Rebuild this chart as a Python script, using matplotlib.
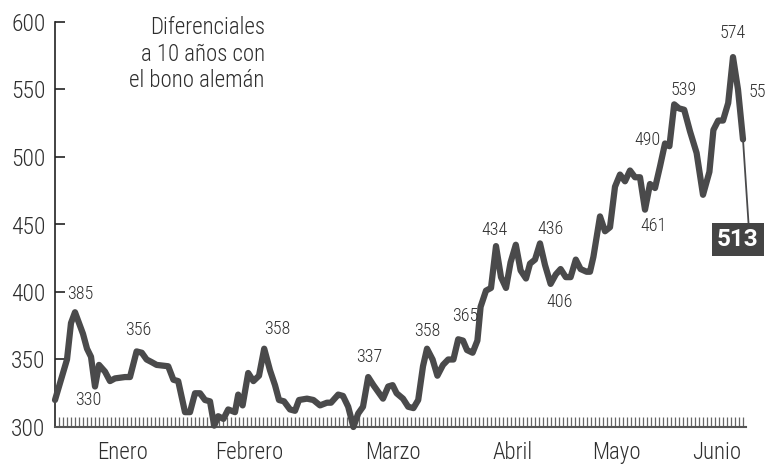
"""
Diferencial a 10 años con el bono alemán (enero - junio).
"""
import matplotlib
matplotlib.use("Agg")
import matplotlib.pyplot as plt
from matplotlib import font_manager

# day of the year (0 = 1 de enero) and spread in basis points
days = [0, 2, 3, 4, 5, 7, 8, 9, 10, 11, 12.5, 13.75, 15, 17.5, 18.75, 20.4, 21.7,
        22.9, 24.2, 25.4, 28.3, 29.6, 30.8, 32.5, 33.75, 35, 36.25, 37.5, 38.75,
        39.8, 40.8, 42.1, 43.3, 45, 45.8, 46.9, 48.3, 49.6, 51, 52.3, 53.75, 55,
        56, 57.25, 58.75, 60, 61, 63, 64.6, 66.25, 68, 69, 70.8, 72, 73.3, 74.6,
        75.8, 77, 78.3, 79.6, 80.8, 82, 83.3, 84.4, 85.4, 87, 88.3, 89.6, 90.8,
        92, 93, 94.4, 95.6, 97, 98.3, 99.6, 100.8, 102, 103, 104.4, 105.6, 106.4,
        107.75, 109, 110.25, 111.5, 112.75, 113.9, 115.2, 116.4, 117.75, 118.75,
        120, 121.25, 122.5, 123.9, 125.2, 126.4, 127.7, 128.9, 130.2, 131.4,
        132.9, 133.75, 134.6, 136.25, 137.5, 138.75, 140, 141.25, 142.5, 143.75,
        145, 146.25, 147.5, 148.75, 150, 151.25, 152.5, 153.6, 154.8, 156, 157.3,
        158.75, 160.4, 162, 163.6, 164.6, 165.8, 167, 168.3, 169.5, 170.75, 172]
spread = [320, 340, 350, 377, 385, 369, 358, 352, 330, 346, 341, 334, 336, 337,
          337, 356, 355, 350, 348, 346, 345, 335, 334, 311, 311, 325, 325, 320,
          319, 301, 308, 306, 313, 311, 324, 316, 340, 334, 338, 358, 342, 331,
          320, 319, 313, 312, 320, 321, 320, 316, 318, 318, 324, 323, 315, 300,
          310, 315, 337, 331, 326, 321, 330, 331, 325, 321, 315, 314, 320, 345,
          358, 350, 338, 346, 350, 350, 365, 364, 357, 355, 364, 389, 401, 403,
          434, 411, 403, 422, 435, 416, 410, 421, 424, 436, 420, 406, 413, 417,
          411, 411, 424, 417, 415, 415, 426, 456, 445, 448, 478, 487, 482, 490,
          485, 485, 461, 480, 477, 493, 510, 508, 539, 536, 535, 519, 503, 472,
          489, 520, 527, 527, 540, 574, 550, 513]

month_names = ["Enero", "Febrero", "Marzo", "Abril", "Mayo", "Junio"]
month_pos = [17, 48.5, 84.5, 114.5, 140.25, 165.5]

# value labels: (text, day, value)
labels = [("330", 8.25, 320), ("385", 6.25, 398.5), ("356", 20.75, 372),
          ("358", 55.5, 372.6), ("337", 78.5, 352), ("358", 93, 371),
          ("365", 102.5, 382), ("434", 110, 446), ("436", 123.75, 447),
          ("406", 126.25, 392.6), ("461", 149.75, 449), ("490", 148.25, 512.6),
          ("539", 157.25, 549.6), ("574", 169.5, 592)]

installed = {f.name for f in font_manager.fontManager.ttflist}
FONT = [f for f in ["Roboto Condensed", "Liberation Sans Narrow", "Roboto"]
        if f in installed] + ["DejaVu Sans"]
LINE = "#4a4a4b"
TEXT = "#2e2e2e"

plt.rcParams["font.family"] = FONT
plt.rcParams["font.weight"] = "light"

fig = plt.figure(figsize=(7.66, 4.65), dpi=100)
ax = fig.add_axes([55 / 766, 38 / 465, 691 / 766, 405 / 465])

ax.plot(days, spread, color=LINE, lw=4.5, solid_joinstyle="round",
        solid_capstyle="round", clip_on=False, zorder=3)

for txt, d, v in labels:
    ax.text(d, v, txt, ha="center", va="center", fontsize=13, color=TEXT)
ax.text(173.3, 548, "557", ha="left", va="center", fontsize=13, color=TEXT,
        clip_on=False)

# last value box with pointer
ax.annotate(str(spread[-1]), xy=(days[-1], spread[-1]), xytext=(170.75, 439),
            ha="center", va="center", fontsize=17.5, fontweight="bold",
            color="white", family=["Roboto", "DejaVu Sans"],
            bbox=dict(boxstyle="square,pad=0.2", fc="#444444", ec="none"),
            arrowprops=dict(arrowstyle="-", color=LINE, lw=1.3,
                            shrinkA=0, shrinkB=0, relpos=(0.76, 1)),
            annotation_clip=False)

ax.text(0.3035, 1.015, "Diferenciales\na 10 años con\nel bono alemán",
        transform=ax.transAxes, ha="right", va="top", fontsize=16.5,
        color=TEXT, linespacing=1.2)

ax.set_xlim(0, 172.75)
ax.set_ylim(300, 600)

for s in ["top", "right"]:
    ax.spines[s].set_visible(False)
ax.spines["left"].set_color("#222222")
ax.spines["left"].set_linewidth(1.2)
ax.spines["bottom"].set_color("#555555")
ax.spines["bottom"].set_linewidth(1.5)

ax.set_yticks([300, 350, 400, 450, 500, 550, 600])
ax.tick_params(axis="y", direction="in", length=7, width=1.2, color="#222222",
               labelsize=17, labelcolor=TEXT, pad=7)

ax.xaxis.remove_overlapping_locs = False
ax.set_xticks(month_pos)
ax.set_xticklabels(month_names)
ax.set_xticks(range(1, 173), minor=True)
ax.tick_params(axis="x", which="major", length=0, labelsize=16.5,
               labelcolor=TEXT, pad=10)
ax.tick_params(axis="x", which="minor", direction="in", length=7, width=0.9,
               color="#666666")

fig.savefig("out.png", dpi=100)
